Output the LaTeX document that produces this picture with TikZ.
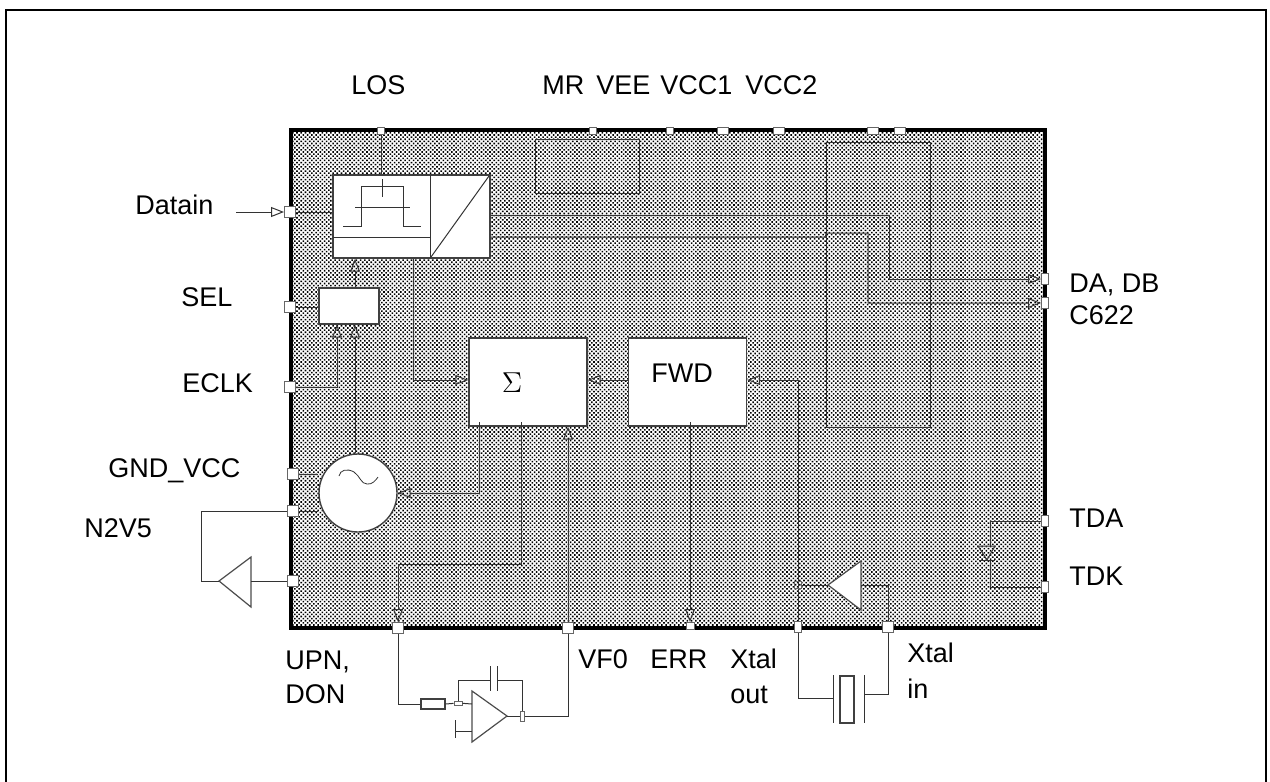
\documentclass[tikz,border=0pt]{standalone}
\usepackage{fontspec}
\setmainfont{Liberation Sans}
\usetikzlibrary{arrows.meta,patterns.meta,calc}

\begin{document}
\begin{tikzpicture}[
  x=0.5pt,y=-0.5pt,
  wire/.style={draw=black!80,line width=0.5pt},
  sig/.style={wire,-{Triangle[open,length=6.5pt,width=5pt]}},
  part/.style={draw=black!70,fill=white,line width=0.6pt},
  blockbox/.style={draw=black!75,fill=white,line width=0.7pt,rectangle,inner sep=0pt},
  pinbox/.style={draw=black!60,fill=white,line width=0.5pt,rectangle,inner sep=0pt},
  lbl/.style={font=\fontsize{13.5}{16}\selectfont,inner sep=0pt,anchor=base west}
]
  \useasboundingbox (0,0) rectangle (1270,782);
  % Page frame
  \draw[line width=1pt] (6,782) -- (6,9.5) -- (1266,9.5) -- (1266,782);

  % Chip body
  \node[draw=black,line width=2pt,rectangle,inner sep=0pt,minimum width=377pt,minimum height=249pt,
        pattern={Dots[radius=0.56pt,distance=1.5pt,angle=45]},pattern color=black] (chip) at (668,379) {};

  % Blocks
  \node[blockbox,minimum width=78.5pt,minimum height=41.5pt] (adc) at (411.5,216.5) {};
  \node[blockbox,minimum width=30pt,minimum height=18pt] (selbox) at (349,306) {};
  \node[blockbox,minimum width=59pt,minimum height=44pt] (sigma) at (528,382) {};
  \node[blockbox,minimum width=59pt,minimum height=44pt] (fwd) at (687.5,382) {};
  \node[blockbox,circle,minimum size=39pt] (osc) at (358,493) {};
  \node[wire,rectangle,minimum width=52pt,minimum height=27pt,inner sep=0pt] (vccbox) at (587,166) {};
  \node[wire,rectangle,minimum width=52pt,minimum height=142.5pt,inner sep=0pt] (bigbox) at (878,284.5) {};
  \node[blockbox,minimum width=12pt,minimum height=5pt] (res) at (433,704) {};
  \node[blockbox,minimum width=7pt,minimum height=23.5pt] (xrect) at (847,699.5) {};

  % Pins
  \foreach \nm/\px/\py/\w/\h in {pinLos/381/131/7/7, pinMr/593/131/7/7, pinVee/670/131/7/7,
      pinVa/723/131/11/7, pinVb/779/131/11/7, pinVc/873/131/11/7, pinVd/900/131/11/7,
      pinData/290/212/11/11, pinSel/290/307/11/11, pinEclk/290/387/11/11,
      pinGnd/293/474/11/11, pinNtv/293/511/11/11, pinAmp/293/581/11/11,
      pinDa/1045/279/7/11, pinCs/1045/303/7/11, pinTda/1045/521/7/11, pinTdk/1045/587/7/11,
      pinUpn/398/628/11/11, pinVf/568/628/11/11, pinErr/690/626/8/7,
      pinXout/798/627/7/11, pinXin/888/627/11/11} {
    \node[pinbox,minimum width=\w*0.5pt,minimum height=\h*0.5pt] (\nm) at (\px,\py) {};
  }

  % Labels
  \foreach \nm/\px/\py/\txt in {lblLos/351/94/LOS, lblMr/542/94/MR, lblVee/596/94/VEE,
      lblVa/660/94/VCC1, lblVb/745/94/VCC2,
      lblData/135/214/Datain, lblSel/181/306/SEL, lblEclk/182/392/ECLK, lblGnd/108/477/GND\_VCC,
      lblNtv/84/537/N2V5, lblDa/1069/292/{DA, DB}, lblCs/1069/324/C622,
      lblTda/1069/527/TDA, lblTdk/1069/585/TDK, lblUpn/285/669/{UPN,}, lblDon/285/703/DON,
      lblVf/578/668/VF0, lblErr/650/668/ERR, lblXo/730/668/Xtal, lblOut/730/703/out,
      lblXi/907/662/Xtal, lblIn/907/698/in} {
    \node[lbl] (\nm) at (\px,\py) {\txt};
  }
  \node[font=\fontsize{13.5}{16}\selectfont,inner sep=0pt] (fwdlbl) at (682,373) {FWD};
  \node[font=\fontsize{15}{16}\selectfont,inner sep=0pt] (sigmalbl) at (512,383) {$\Sigma$};

  % Helper points
  \coordinate (xa) at (355,0);
  \coordinate (xe) at (337,0);
  \coordinate (xl) at (413.5,0);
  \coordinate (ym) at (0,380);
  \coordinate (sa) at (479,422);
  \coordinate (sb) at (521,422);
  \coordinate (sbb) at (521,564);
  \coordinate (fd) at (690,422);
  \coordinate (dataend) at (236,212);
  \coordinate (da) at (889,215);
  \coordinate (yb) at (0,237);
  \coordinate (jga) at (826,233);
  \coordinate (jgb) at (868,233);

  % ADC block symbols
  \draw[wire] (430,175) -- (430,258);
  \draw[wire] (333,237) -- (430,237);
  \draw[wire] (431,257) -- (489,176);
  \draw[wire] (343,226) -- (361,226) -- (361,186) -- (403,186) -- (403,226) -- (421,226);
  \draw[wire] (355,207.5) -- (410,207.5);
  \draw[wire] (382,179) -- (382,197);
  \draw[wire,line width=0.4pt] (339,476) .. controls (340,470) and (347,468) .. (354,472)
    .. controls (360,476) and (361,484) .. (367,484) .. controls (372,485) and (376,480) .. (378,477);

  % Inputs and selector
  \draw[sig] (dataend) -- (pinData);
  \draw[wire] (pinData) -- (pinData -| adc.west);
  \draw[wire] (pinLos) -- (adc.north -| pinLos);
  \draw[wire] (pinSel) -- (pinSel -| selbox.west);
  \draw[sig] (selbox.north -| xa) -- (adc.south -| xa);
  \draw[sig] (osc.north -| xa) -- (selbox.south -| xa);
  \draw[sig] (pinEclk) -| (selbox.south -| xe);
  \draw[wire] (pinGnd) -- (pinGnd -| osc.west);
  \draw[wire] (pinNtv) -- (pinNtv -| osc.west);

  % Control loop
  \draw[sig] (adc.south -| xl) |- (sigma.west |- ym);
  \draw[sig] (fwd.west |- ym) -- (sigma.east |- ym);
  \draw[sig] (pinXout) |- (fwd.east |- ym);
  \draw[sig] (sa) |- (osc.east);
  \draw[sig] (sb) -- (sbb) -| (pinUpn);
  \draw[sig] (pinVf) -- (sigma.south -| pinVf);
  \draw[sig] (fd) -- (pinErr);

  % Data outputs
  \draw[sig] (adc.east |- da) -- (da) |- (pinDa);
  \draw[sig] (adc.east |- yb) -- (bigbox.west |- yb) -- (jga) -- (jgb) |- (pinCs);

  % Amplifier on the left
  \coordinate (ntip) at (219,581);
  \coordinate (nbase) at (251,581);
  \coordinate (ncorner) at (201,581);
  \draw[part] (ntip) -- (251,557) -- (251,607) -- cycle;
  \draw[wire] (pinNtv) -| (ncorner) -- (ntip);
  \draw[wire] (nbase) -- (pinAmp);

  % Amplifier of the crystal
  \coordinate (atip) at (828,585);
  \coordinate (abase) at (861,585);
  \draw[part] (atip) -- (861,561) -- (861,610) -- cycle;
  \node[pinbox,fill=none,minimum size=3.5pt] (jout) at (798,585) {};
  \draw[wire] (pinXin) |- (abase);
  \draw[wire] (atip) -- (jout);

  % Loop filter
  \coordinate (oin) at (472,704);
  \coordinate (otip) at (507,716);
  \coordinate (oplus) at (472,731);
  \coordinate (obar) at (455,731);
  \coordinate (capa) at (490,680);
  \coordinate (capb) at (497,680);
  \draw[part,fill=none] (472,691) -- (otip) -- (472,742) -- cycle;
  \node[pinbox,minimum width=4pt,minimum height=2pt] (jin) at (458,703) {};
  \node[pinbox,minimum width=2pt,minimum height=5pt] (jfb) at (522,716) {};
  \draw[wire] (pinUpn) |- (res.west);
  \draw[wire] (res.east) -- (jin);
  \draw[wire] (jin) -- (oin);
  \draw[wire] (jin) |- (capa);
  \draw[wire] (capb) -| (jfb);
  \draw[wire] (capa |- 0,666) -- (capa |- 0,691);
  \draw[wire] (capb |- 0,666) -- (capb |- 0,691);
  \draw[wire] (otip) -- (jfb);
  \draw[wire] (jfb) -| (pinVf);
  \draw[wire] (oplus) -- (obar);
  \draw[wire] (455,720) -- (455,738);

  % Crystal
  \coordinate (xpa) at (833,698);
  \coordinate (xpb) at (864.5,694);
  \draw[wire] (pinXout) |- (xpa);
  \draw[wire] (xpb) -| (pinXin);
  \draw[wire] (833,675) -- (833,723);
  \draw[wire] (864.5,675) -- (864.5,723);

  % Temperature diode
  \coordinate (dtop) at (990,546);
  \coordinate (dbot) at (990,560);
  \draw[wire] (pinTda) -| (dtop);
  \draw[wire] (dbot) |- (pinTdk);
  \draw[wire] (978,546) -- (995,546) -- (987,560) -- cycle;
  \draw[wire] (979,560) -- (995,560);
\end{tikzpicture}
\end{document}
